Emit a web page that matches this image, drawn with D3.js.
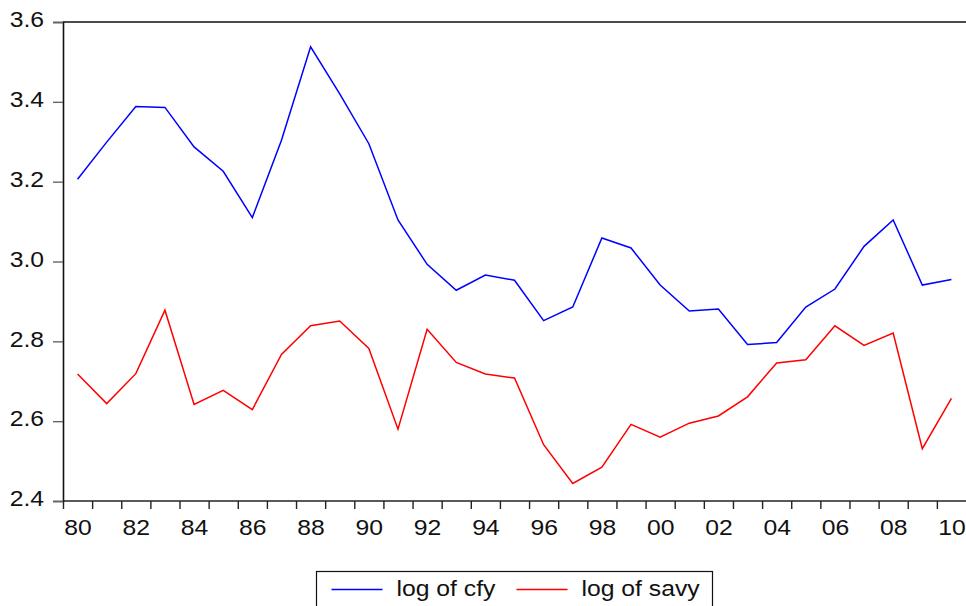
<!DOCTYPE html>
<html>
<head>
<meta charset="utf-8">
<script src="https://cdn.jsdelivr.net/npm/d3@7"></script>
<style>
  body { margin: 0; background: #fff; }
  svg { display: block; font-family: "Liberation Sans", Arial, sans-serif; }
</style>
</head>
<body>
<svg id="chart" width="966" height="606"></svg>
<script>
// annual data, 1980 - 2010
var years = d3.range(1980, 2011);
var cfy = [3.206, 3.299, 3.388, 3.386, 3.287, 3.226, 3.110, 3.304, 3.538, 3.420,
           3.295, 3.104, 2.993, 2.928, 2.966, 2.953, 2.852, 2.886, 3.059, 3.034,
           2.941, 2.876, 2.881, 2.792, 2.797, 2.886, 2.931, 3.038, 3.104, 2.941,
           2.955];
var savy = [2.718, 2.644, 2.719, 2.878, 2.642, 2.677, 2.629, 2.767, 2.839, 2.851,
            2.782, 2.580, 2.830, 2.747, 2.718, 2.708, 2.541, 2.444, 2.485, 2.592,
            2.560, 2.595, 2.613, 2.661, 2.746, 2.754, 2.839, 2.790, 2.821, 2.531,
            2.657];
var yTicks = [2.4, 2.6, 2.8, 3.0, 3.2, 3.4, 3.6];
var xLabelYears = d3.range(1980, 2011, 2);
var seriesNames = ['log of cfy', 'log of savy'];
var seriesColors = ['#0000ff', '#ff0000'];

var svg = d3.select('#chart'),
    plotLeft = 63, plotRight = 966, plotTop = 22, plotBottom = 501,
    stretch = 1.15; // the picture's text is a bit wider than tall

var x = d3.scaleLinear().domain([1980, 2011]).range([plotLeft, plotRight]);
var y = d3.scaleLinear().domain([2.4, 3.6]).range([plotBottom, plotTop]);

// frame: top border and left axis
svg.append('line')
  .attr('x1', plotLeft).attr('x2', plotRight).attr('y1', plotTop).attr('y2', plotTop)
  .attr('stroke', '#111').attr('stroke-width', 1.6);

var yAxis = svg.append('g')
  .attr('transform', 'translate(' + plotLeft + ',0)')
  .call(d3.axisLeft(y).tickValues(yTicks).tickSize(10).tickPadding(9)
        .tickFormat(d3.format('.1f')));
yAxis.select('.domain').attr('stroke', '#111').attr('stroke-width', 1.6);
yAxis.selectAll('.tick line').attr('stroke', '#666').attr('stroke-width', 1.4);
yAxis.selectAll('.tick text')
  .attr('font-size', '21.5px').attr('fill', '#111')
  .attr('dy', '0.22em')
  .attr('x', -19 / stretch)
  .attr('transform', 'scale(' + stretch + ',1)');

// x axis: a tick at every year boundary, labels in the middle of every other year
var xAxis = svg.append('g')
  .attr('transform', 'translate(0,' + plotBottom + ')')
  .call(d3.axisBottom(x).tickValues(years).tickSize(8).tickFormat(''));
xAxis.select('.domain').attr('stroke', '#222').attr('stroke-width', 1.6)
  .attr('d', 'M' + plotLeft + ',0H' + plotRight);
xAxis.selectAll('.tick line').attr('stroke', '#222').attr('stroke-width', 1.4);

var xLabels = svg.append('g')
  .attr('transform', 'translate(0,' + plotBottom + ')')
  .call(d3.axisBottom(x).tickValues(xLabelYears.map(function (d) { return d + 0.5; }))
        .tickSize(0).tickPadding(19)
        .tickFormat(function (d) { return d3.format('02d')(Math.floor(d) % 100); }));
xLabels.select('.domain').remove();
xLabels.selectAll('.tick text')
  .attr('font-size', '21.5px').attr('fill', '#111')
  .attr('transform', 'scale(' + stretch + ',1)');

// series lines
var line = d3.line()
  .x(function (d, i) { return x(years[i] + 0.5); })
  .y(function (d) { return y(d); });

[cfy, savy].forEach(function (s, k) {
  svg.append('path')
    .datum(s)
    .attr('d', line)
    .attr('fill', 'none')
    .attr('stroke', seriesColors[k])
    .attr('stroke-width', 1.5)
    .attr('stroke-linejoin', 'miter');
});

// legend, cut off by the bottom of the picture
var legend = svg.append('g').attr('transform', 'translate(316.5,571.5)');
legend.append('rect')
  .attr('width', 396).attr('height', 50)
  .attr('fill', '#fff').attr('stroke', '#111').attr('stroke-width', 1.2);

var legendX = [15, 200];
seriesNames.forEach(function (name, k) {
  var g = legend.append('g').attr('transform', 'translate(' + legendX[k] + ',0)');
  g.append('line')
    .attr('x1', 0).attr('x2', 51).attr('y1', 18).attr('y2', 18)
    .attr('stroke', seriesColors[k]).attr('stroke-width', 1.5);
  g.append('text')
    .attr('x', 65 / stretch).attr('y', 25)
    .attr('font-size', '21.5px').attr('fill', '#111')
    .attr('transform', 'scale(' + stretch + ',1)')
    .text(name);
});
</script>
</body>
</html>
